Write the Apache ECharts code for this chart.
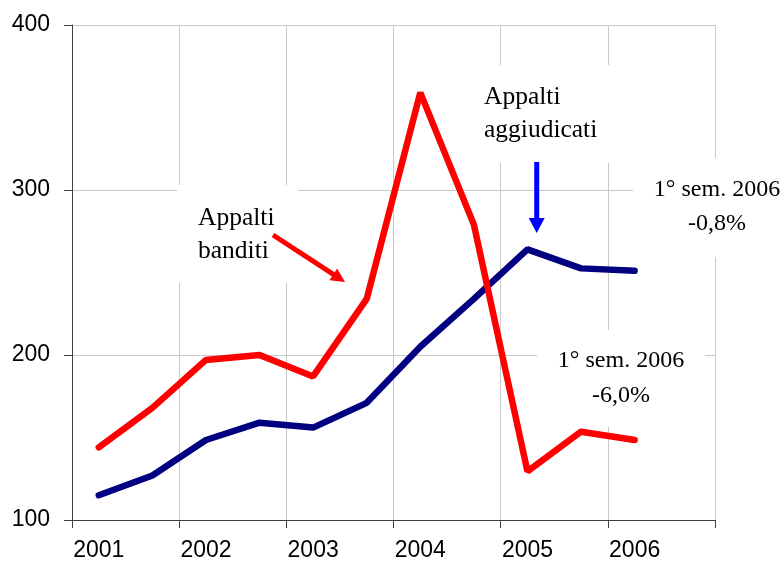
<!DOCTYPE html>
<html>
<head>
<meta charset="utf-8">
<script src="https://cdn.jsdelivr.net/npm/echarts@6/dist/echarts.min.js"></script>
<style>
  html, body { margin: 0; padding: 0; background: #fff; }
  #chart { width: 783px; height: 568px; }
</style>
</head>
<body>
<div id="chart"></div>
<script>
// Half-year periods (I and II semester of each year)
const periods = [
  'I 2001', 'II 2001', 'I 2002', 'II 2002', 'I 2003', 'II 2003',
  'I 2004', 'II 2004', 'I 2005', 'II 2005', 'I 2006', 'II 2006'
];
const yearLabels = ['2001', '2002', '2003', '2004', '2005', '2006'];

// Index values per semester (second half of 2006 not yet available)
const appaltiBanditi = [144, 168, 197, 200, 187, 234, 359, 279, 129.5, 153.5, 148.5];
const appaltiAggiudicati = [115, 127, 148.5, 159, 156, 171, 205, 234, 264, 252.5, 251];

const yTicks = { min: 100, max: 400, step: 100 };

const chart = echarts.init(document.getElementById('chart'), null, { renderer: 'canvas' });

const serif = 'Liberation Serif, Times New Roman, serif';
const sans = 'Liberation Sans, Arial, sans-serif';

// Arrow made of a shaft and a triangular head pointing at (x2, y2)
function arrow(x1, y1, x2, y2, color, headLen, headW, shaftW) {
  const dx = x2 - x1, dy = y2 - y1;
  const len = Math.sqrt(dx * dx + dy * dy);
  const ux = dx / len, uy = dy / len;
  const nx = -uy, ny = ux;
  const bx = x2 - ux * headLen, by = y2 - uy * headLen;
  return [
    {
      type: 'line', z: 5, silent: true,
      shape: { x1: x1, y1: y1, x2: bx + ux, y2: by + uy },
      style: { stroke: color, lineWidth: shaftW }
    },
    {
      type: 'polygon', z: 5, silent: true,
      shape: { points: [[x2, y2], [bx + nx * headW / 2, by + ny * headW / 2], [bx - nx * headW / 2, by - ny * headW / 2]] },
      style: { fill: color }
    }
  ];
}

function box(x, y, w, h) {
  return { type: 'rect', z: 1, silent: true, shape: { x: x, y: y, width: w, height: h }, style: { fill: '#fff' } };
}

function label(text, x, y, align, size) {
  return {
    type: 'text', z: 3, silent: true, x: x, y: y,
    style: { text: text, font: size + 'px ' + serif, fill: '#000', align: align, verticalAlign: 'middle' }
  };
}

const annotations = [
  box(177, 185, 121, 98),
  label('Appalti', 198, 218, 'left', 25.5),
  label('banditi', 198, 251, 'left', 25.5),

  box(474, 65, 140, 98),
  label('Appalti', 484, 97, 'left', 25.5),
  label('aggiudicati', 484, 130, 'left', 25.5),

  box(633, 158, 150, 99),
  label('1° sem. 2006', 717, 190, 'center', 24),
  label('-0,8%', 717, 224, 'center', 24),

  box(537, 330, 168, 97),
  label('1° sem. 2006', 621, 361, 'center', 24),
  label('-6,0%', 621, 396, 'center', 24)
]
  .concat(arrow(273, 235, 345, 282, '#ff0000', 14, 14, 5))
  .concat(arrow(536.7, 162, 536.7, 233, '#0000ff', 15, 16, 5));

chart.setOption({
  animation: false,
  backgroundColor: '#fff',
  grid: { left: 72, right: 68, top: 25, bottom: 48, containLabel: false },
  xAxis: {
    type: 'category',
    data: periods,
    boundaryGap: true,
    axisLine: { lineStyle: { color: '#404040', width: 1 } },
    axisTick: { show: true, interval: 1, length: 8, lineStyle: { color: '#404040' } },
    axisLabel: {
      interval: 1,
      margin: 19,
      fontSize: 23,
      fontFamily: sans,
      color: '#000',
      formatter: function (v, i) { return yearLabels[Math.floor(i / 2)]; }
    },
    splitLine: { show: true, interval: 1, lineStyle: { color: '#c8c8c8', width: 1 } }
  },
  yAxis: {
    type: 'value',
    min: yTicks.min,
    max: yTicks.max,
    interval: yTicks.step,
    axisLine: { show: true, lineStyle: { color: '#404040', width: 1 } },
    axisTick: { show: true, length: 8, lineStyle: { color: '#404040' } },
    axisLabel: { margin: 22, fontSize: 23, fontFamily: sans, color: '#000' },
    splitLine: { show: true, lineStyle: { color: '#c8c8c8', width: 1 } }
  },
  series: [
    {
      name: 'Appalti aggiudicati',
      type: 'line',
      data: appaltiAggiudicati,
      symbol: 'none',
      z: 3,
      lineStyle: { color: '#000080', width: 6.5, cap: 'round' }
    },
    {
      name: 'Appalti banditi',
      type: 'line',
      data: appaltiBanditi,
      symbol: 'none',
      z: 4,
      lineStyle: { color: '#ff0000', width: 6.5, cap: 'round' }
    }
  ],
  graphic: { elements: annotations }
});
</script>
</body>
</html>
